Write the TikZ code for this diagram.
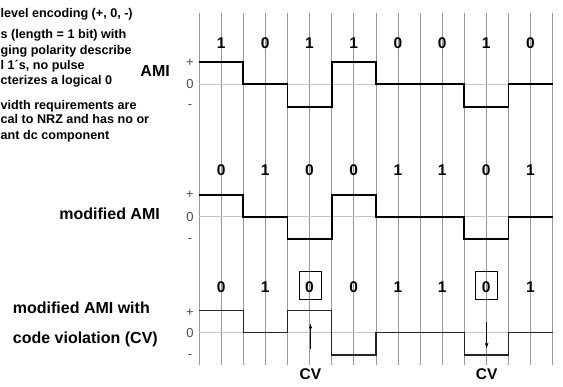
\documentclass[tikz,border=0pt]{standalone}
\usepackage{fontspec}
\setmainfont{Liberation Sans}
\usetikzlibrary{arrows.meta,positioning}

\begin{document}
\begin{tikzpicture}[x=1pt,y=-1pt,
  gridline/.style={gray!80,line width=.6pt},
  zeroline/.style={gray!45,line width=.9pt},
  wave/.style={black,line width=1.8pt},
  wavecv/.style={black!85,line width=1.4pt},
  bit/.style={font=\fontsize{15.5}{15.5}\selectfont\bfseries,inner sep=0pt,anchor=base},
  lvl/.style={font=\fontsize{13}{13}\selectfont,text=black!70,inner sep=0pt},
  note/.style={font=\fontsize{12.6}{15}\selectfont\bfseries,inner sep=0pt,anchor=base west},
  rowlabel/.style={font=\fontsize{16}{16}\selectfont\bfseries,inner sep=0pt},
  cvbox/.style={draw,line width=.8pt,minimum width=22.4pt,minimum height=27.6pt,inner sep=0pt},
  cvarrow/.style={-{Latex[length=5pt,width=3.5pt]},line width=.8pt}]
\useasboundingbox (0,0) rectangle (563,387);

% left notes (cut off at the edge)
\foreach \y/\t [count=\n] in {17.3/{level encoding (+, 0, -)}, 39/{s (length = 1 bit) with},
    55/{ging polarity describe}, 70/{l 1´s, no pulse}, 85/{cterizes a logical 0},
    110/{vidth requirements are}, 124/{cal to NRZ and has no or}, 139.3/{ant dc component}}
  \node[note] (t\n) at (0.5,\y) {\t};

% row labels
\node[rowlabel,anchor=base east] (ami) at (170,76.7) {AMI};
\node[rowlabel,anchor=base east] (mami) at (160,220) {modified AMI};
\node[rowlabel,anchor=base west] (cvl1) at (12.7,313.3) {modified AMI with};
\node[rowlabel,anchor=base west] (cvl2) at (12.7,343.3) {code violation (CV)};

% grid
\foreach \i in {0,...,16}
  \draw[gridline] ({199+22.1*\i},13) -- ({199+22.1*\i},365);
\foreach \z in {84,216.7,332.7}
  \draw[zeroline] (199,\z) -- (552.6,\z);

% levels
\foreach \r/\p/\z/\m in {1/63/84.5/107, 2/195/217/241, 3/312.7/333.3/356.7} {
  \node[lvl] (p\r) at (190,\p) {+};
  \node[lvl] (z\r) at (190,\z) {0};
  \node[lvl] (m\r) at (190,\m) {-};
}

% bits
\foreach \b [count=\k from 0] in {1,0,1,1,0,0,1,0}
  \node[bit] (a\k) at ({221.1+44.2*\k},49) {\b};
\foreach \b [count=\k from 0] in {0,1,0,0,1,1,0,1}
  \node[bit] (b\k) at ({221.1+44.2*\k},176) {\b};
\foreach \b [count=\k from 0] in {0,1,0,0,1,1,0,1}
  \node[bit] (c\k) at ({221.1+44.2*\k},292.3) {\b};

% signals
\draw[wave] (199,61.7) -| (243.2,84) -| (287.4,106.7) -| (331.6,61.7) -| (375.8,84)
  -| (464.2,106.7) -| (508.4,84) -- (552.6,84);
\draw[wave] (199,195) -| (243.2,216.7) -| (287.4,238.7) -| (331.6,195) -| (375.8,216.7)
  -| (464.2,238.7) -| (508.4,216.7) -- (552.6,216.7);
\draw[wavecv] (199,310.7) -| (243.2,332.7) -| (287.4,310.7) -| (331.6,355) -| (375.8,332.7)
  -| (464.2,355) -| (508.4,332.7) -- (552.6,332.7);

% code violations
\node[cvbox] (v1) at (310.5,285.5) {};
\node[cvbox] (v2) at (486.2,285.5) {};
\node[bit] (cv1) at (310.5,379.3) {CV};
\node[bit] (cv2) at (486.7,379.3) {CV};
\coordinate (s1) at (310.5,349);
\coordinate (e1) at (310.5,323.5);
\coordinate (s2) at (486.7,322);
\coordinate (e2) at (486.7,348.5);
\draw[cvarrow] (s1) -- (e1);
\draw[cvarrow] (s2) -- (e2);
\end{tikzpicture}
\end{document}
